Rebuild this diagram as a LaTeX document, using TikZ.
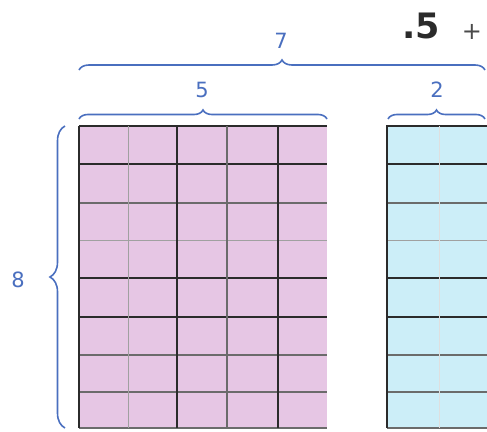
\documentclass[tikz,border=0pt]{standalone}
\usepackage{fontspec}
\setmainfont{DejaVu Sans}
\usetikzlibrary{positioning,calc,decorations.pathreplacing}
\definecolor{pnk}{HTML}{E6C6E4}
\definecolor{sky}{HTML}{CCEEF8}
\definecolor{brc}{HTML}{4A6FBF}
\definecolor{ln}{HTML}{2B2B2B}

\begin{document}
\begin{tikzpicture}[x=1pt,y=-1pt,
    brace/.style={brc,line width=1.6pt,decorate,decoration={brace,amplitude=#1}},
    heavy/.style={ln,line width=1.7pt},
    light/.style={ln!70,line width=1.1pt},
    faint/.style={ln!45,line width=0.9pt},
    lbl/.style={brc,font=\fontsize{21}{21}\selectfont}]
  \useasboundingbox (0,0) rectangle (487,431);
  % the two grids
  \coordinate (pa) at (79,126); \coordinate (pb) at (327,428);
  \coordinate (ba) at (387,126); \coordinate (bb) at (487,428);
  \fill[pnk] (pa) rectangle (pb);
  \fill[sky] (ba) rectangle (bb);
  \foreach \yy/\st in {203/light,240/faint,355/light,392/light,428/light,126/heavy,164/heavy,278/heavy,317/heavy}{
    \draw[\st] (79,\yy)--(327,\yy);
    \draw[\st] (387,\yy)--(487,\yy);
  }
  \foreach \xx/\st in {128/faint,227/light,79/heavy,177/heavy,278/heavy}
    \draw[\st] (\xx,126)--(\xx,428);
  \draw[faint,ln!15] (439,126)--(439,428);
  \draw[heavy] (387,125)--(387,428);
  % braces
  \coordinate (s7) at (79,70); \coordinate (e7) at (485,70);
  \coordinate (s5) at (79,119); \coordinate (e5) at (327,119);
  \coordinate (s2) at (388,119); \coordinate (e2) at (485,119);
  \coordinate (s8) at (65,428); \coordinate (e8) at (65,126);
  \draw[brace=10pt] (s7)--(e7);
  \draw[brace=9pt] (s5)--(e5);
  \draw[brace=9pt] (s2)--(e2);
  \draw[brace=15pt] (s8)--(e8);
  \node[lbl] (n7) at (281,41){7};
  \node[lbl] (n5) at (202,90){5};
  \node[lbl] (n2) at (437,90){2};
  \node[lbl] (n8) at (18,280){8};
  % sum in the corner
  \node[ln,font=\bfseries\fontsize{35}{35}\selectfont,inner sep=0pt] (pt5) at (421,26){.5};
  \node[ln!85,font=\fontsize{24}{24}\selectfont,inner sep=0pt] (plus) at (472,32){+};
\end{tikzpicture}
\end{document}
